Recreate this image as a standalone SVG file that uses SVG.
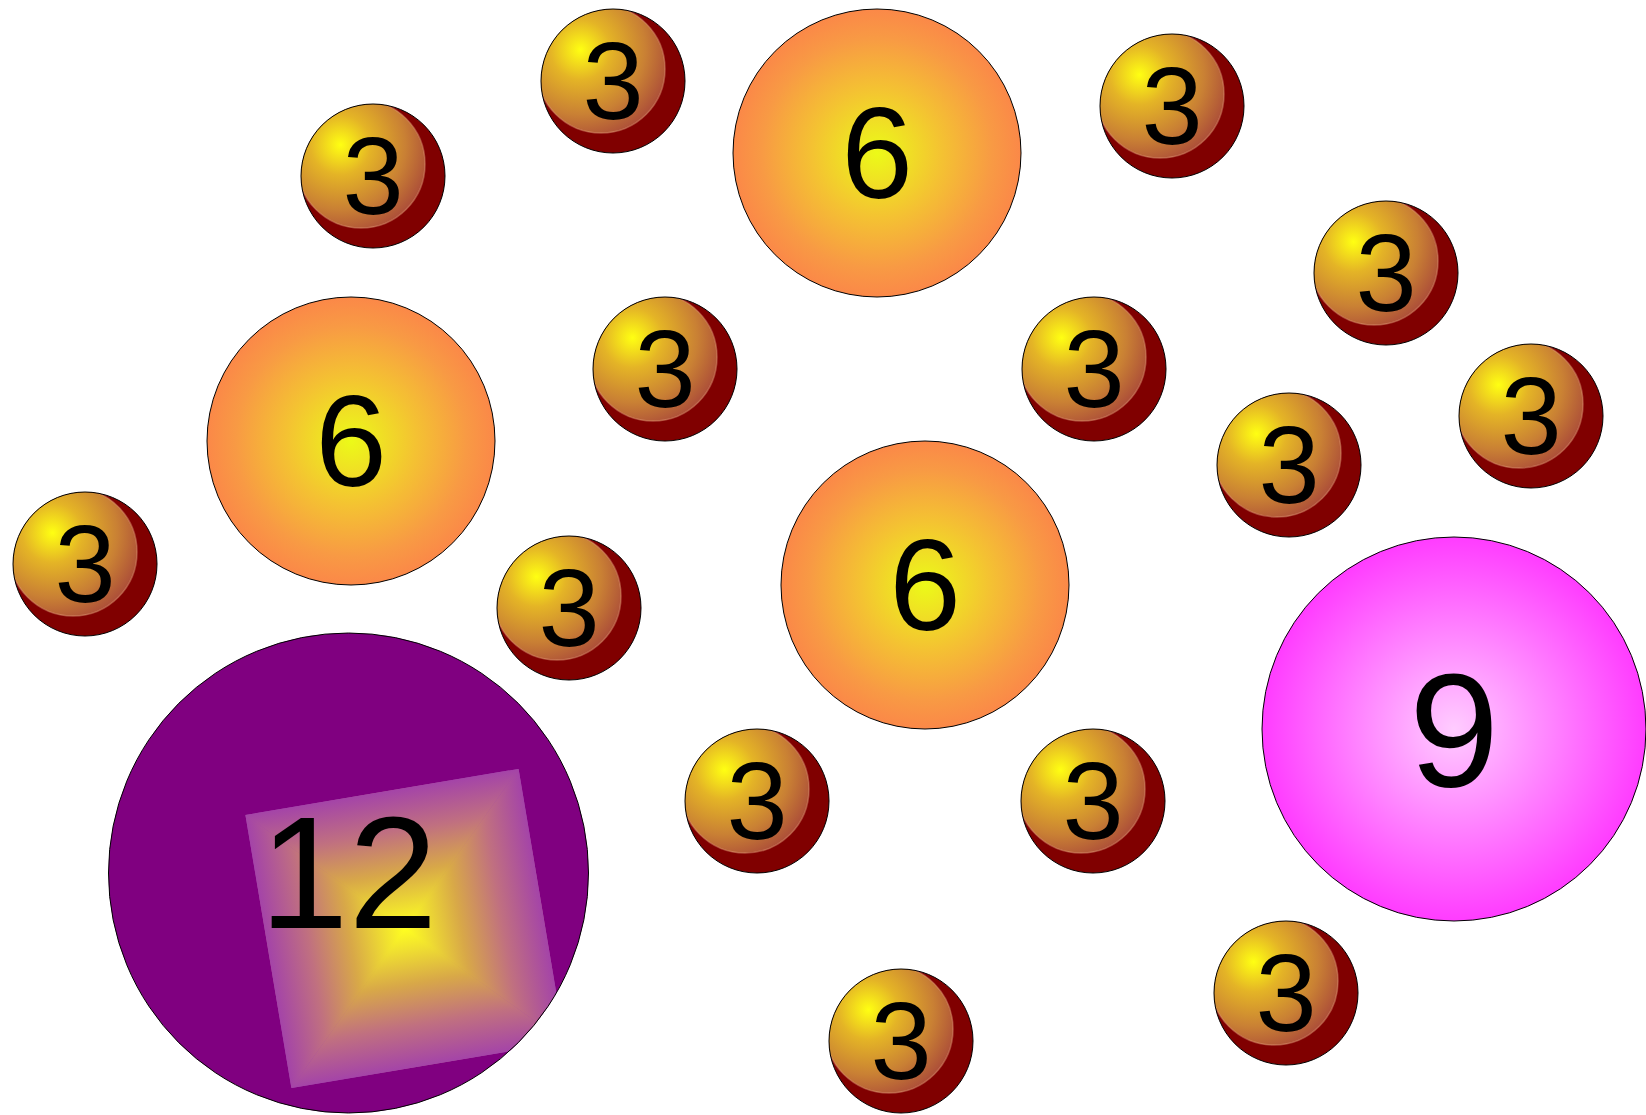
<svg xmlns="http://www.w3.org/2000/svg" width="1646" height="1115" viewBox="0 0 1646 1115">
  <style>
    .base { fill: #800000; stroke: none; }
    .hl { fill: url(#gBall); stroke: #e4a07a; stroke-opacity: 0.45; stroke-width: 1.5; }
    .outline { fill: none; stroke: #000; stroke-width: 1; }
    .num { font-family: "Liberation Sans", Arial, sans-serif; fill: #000; text-anchor: middle; }
    .t3 { font-size: 110px; }
    .t6 { font-size: 129px; }
    .t9 { font-size: 162px; }
    .t12 { font-size: 160px; }
    .six { fill: url(#gSix); stroke: #000; stroke-width: 1; }
  </style>
  <defs>
    <radialGradient id="gBall" cx="0.34" cy="0.35" r="0.78" fx="0.34" fy="0.35">
      <stop offset="0" stop-color="#ffff12"/>
      <stop offset="0.3" stop-color="#e4b426"/>
      <stop offset="0.65" stop-color="#c98034"/>
      <stop offset="1" stop-color="#a4403a"/>
    </radialGradient>
    <radialGradient id="gSix" cx="0.5" cy="0.5" r="0.5">
      <stop offset="0" stop-color="#ecfa18"/>
      <stop offset="0.45" stop-color="#f4c232"/>
      <stop offset="0.8" stop-color="#f89a44"/>
      <stop offset="1" stop-color="#fb8848"/>
    </radialGradient>
    <radialGradient id="gNine" cx="0.5" cy="0.5" r="0.5">
      <stop offset="0" stop-color="#ffccff"/>
      <stop offset="1" stop-color="#ff3cff"/>
    </radialGradient>
    <radialGradient id="gSqUnder" gradientUnits="userSpaceOnUse" cx="0" cy="0" r="160">
      <stop offset="0" stop-color="#ffff20"/>
      <stop offset="0.15" stop-color="#f0e030"/>
      <stop offset="0.4" stop-color="#d8a848"/>
      <stop offset="0.7" stop-color="#c07080"/>
      <stop offset="1" stop-color="#a444a8"/>
    </radialGradient>
    <linearGradient id="gSqT" gradientUnits="userSpaceOnUse" x1="0" y1="0" x2="0" y2="-138.5">
      <stop offset="0" stop-color="#ffff20"/>
      <stop offset="0.15" stop-color="#f0e030"/>
      <stop offset="0.4" stop-color="#d8a848"/>
      <stop offset="0.7" stop-color="#c07080"/>
      <stop offset="1" stop-color="#a444a8"/>
    </linearGradient>
    <linearGradient id="gSqB" gradientUnits="userSpaceOnUse" x1="0" y1="0" x2="0" y2="138.5" href="#gSqT"/>
    <linearGradient id="gSqL" gradientUnits="userSpaceOnUse" x1="0" y1="0" x2="-138.5" y2="0" href="#gSqT"/>
    <linearGradient id="gSqR" gradientUnits="userSpaceOnUse" x1="0" y1="0" x2="138.5" y2="0" href="#gSqT"/>
    <clipPath id="ballClip"><circle cx="0" cy="0" r="72"/></clipPath>
    <clipPath id="clip12"><circle cx="0" cy="0" r="240"/></clipPath>
  </defs>

  <rect x="0" y="0" width="1646" height="1115" fill="#fff"/>

  <g id="connectors"></g>

  <!-- large nodes -->
  <g id="n12" transform="translate(348.5,873)">
    <circle r="240" fill="#800080"/>
    <g clip-path="url(#clip12)">
      <g transform="translate(56.5,55.5) rotate(-9.56)">
        <rect x="-138.5" y="-138.5" width="277" height="277" fill="url(#gSqUnder)"/>
        <polygon points="0,0 -138.5,-138.5 138.5,-138.5" fill="url(#gSqT)"/>
        <polygon points="0,0 138.5,138.5 -138.5,138.5" fill="url(#gSqB)"/>
        <polygon points="0,0 -138.5,138.5 -138.5,-138.5" fill="url(#gSqL)"/>
        <polygon points="0,0 138.5,-138.5 138.5,138.5" fill="url(#gSqR)"/>
      </g>
    </g>
    <circle r="240" class="outline"/>
    <text class="num t12" x="0" y="55">12</text>
  </g>

  <g id="n9" transform="translate(1454,729)">
    <circle r="192" fill="url(#gNine)" stroke="#000" stroke-width="1"/>
    <text class="num t9" x="0" y="57">9</text>
  </g>

  <g id="n6a" transform="translate(877,153)">
    <circle r="144" class="six"/>
    <text class="num t6" x="0" y="45">6</text>
  </g>
  <g id="n6b" transform="translate(351,441)">
    <circle r="144" class="six"/>
    <text class="num t6" x="0" y="45">6</text>
  </g>
  <g id="n6c" transform="translate(925,585)">
    <circle r="144" class="six"/>
    <text class="num t6" x="0" y="45">6</text>
  </g>

  <!-- small balls -->
  <g id="n3a" transform="translate(613,81)">
    <circle r="72" class="base"/><circle cx="-12" cy="-12" r="64" class="hl" clip-path="url(#ballClip)"/><circle r="72" class="outline"/>
    <text class="num t3" x="0" y="38">3</text>
  </g>
  <g id="n3b" transform="translate(373,176)">
    <circle r="72" class="base"/><circle cx="-12" cy="-12" r="64" class="hl" clip-path="url(#ballClip)"/><circle r="72" class="outline"/>
    <text class="num t3" x="0" y="38">3</text>
  </g>
  <g id="n3c" transform="translate(1172,106)">
    <circle r="72" class="base"/><circle cx="-12" cy="-12" r="64" class="hl" clip-path="url(#ballClip)"/><circle r="72" class="outline"/>
    <text class="num t3" x="0" y="38">3</text>
  </g>
  <g id="n3d" transform="translate(1386,273)">
    <circle r="72" class="base"/><circle cx="-12" cy="-12" r="64" class="hl" clip-path="url(#ballClip)"/><circle r="72" class="outline"/>
    <text class="num t3" x="0" y="38">3</text>
  </g>
  <g id="n3e" transform="translate(665,369)">
    <circle r="72" class="base"/><circle cx="-12" cy="-12" r="64" class="hl" clip-path="url(#ballClip)"/><circle r="72" class="outline"/>
    <text class="num t3" x="0" y="38">3</text>
  </g>
  <g id="n3f" transform="translate(1094,369)">
    <circle r="72" class="base"/><circle cx="-12" cy="-12" r="64" class="hl" clip-path="url(#ballClip)"/><circle r="72" class="outline"/>
    <text class="num t3" x="0" y="38">3</text>
  </g>
  <g id="n3g" transform="translate(1531,416)">
    <circle r="72" class="base"/><circle cx="-12" cy="-12" r="64" class="hl" clip-path="url(#ballClip)"/><circle r="72" class="outline"/>
    <text class="num t3" x="0" y="38">3</text>
  </g>
  <g id="n3h" transform="translate(1289,465)">
    <circle r="72" class="base"/><circle cx="-12" cy="-12" r="64" class="hl" clip-path="url(#ballClip)"/><circle r="72" class="outline"/>
    <text class="num t3" x="0" y="38">3</text>
  </g>
  <g id="n3i" transform="translate(85,564)">
    <circle r="72" class="base"/><circle cx="-12" cy="-12" r="64" class="hl" clip-path="url(#ballClip)"/><circle r="72" class="outline"/>
    <text class="num t3" x="0" y="38">3</text>
  </g>
  <g id="n3j" transform="translate(569,608)">
    <circle r="72" class="base"/><circle cx="-12" cy="-12" r="64" class="hl" clip-path="url(#ballClip)"/><circle r="72" class="outline"/>
    <text class="num t3" x="0" y="38">3</text>
  </g>
  <g id="n3k" transform="translate(757,801)">
    <circle r="72" class="base"/><circle cx="-12" cy="-12" r="64" class="hl" clip-path="url(#ballClip)"/><circle r="72" class="outline"/>
    <text class="num t3" x="0" y="38">3</text>
  </g>
  <g id="n3l" transform="translate(1093,801)">
    <circle r="72" class="base"/><circle cx="-12" cy="-12" r="64" class="hl" clip-path="url(#ballClip)"/><circle r="72" class="outline"/>
    <text class="num t3" x="0" y="38">3</text>
  </g>
  <g id="n3m" transform="translate(901,1041)">
    <circle r="72" class="base"/><circle cx="-12" cy="-12" r="64" class="hl" clip-path="url(#ballClip)"/><circle r="72" class="outline"/>
    <text class="num t3" x="0" y="38">3</text>
  </g>
  <g id="n3n" transform="translate(1286,993)">
    <circle r="72" class="base"/><circle cx="-12" cy="-12" r="64" class="hl" clip-path="url(#ballClip)"/><circle r="72" class="outline"/>
    <text class="num t3" x="0" y="38">3</text>
  </g>
</svg>
